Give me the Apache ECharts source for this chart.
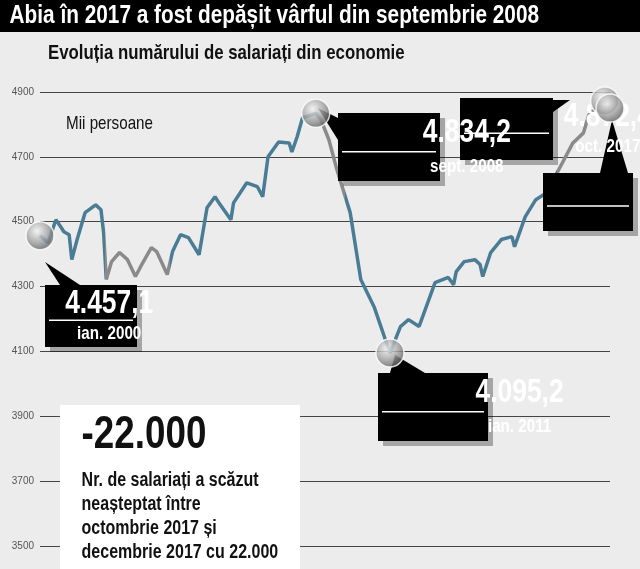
<!DOCTYPE html>
<html><head><meta charset="utf-8">
<script src="https://cdn.jsdelivr.net/npm/echarts@6/dist/echarts.min.js"></script>
<style>html,body{margin:0;padding:0;background:#ececec}#c{width:640px;height:569px}</style>
</head><body><div id="c"></div>
<script>
// months since Jan 2000
const months = [0,3,6,8,9,11,12,14,17,21,23,24,25,27,30,33,36,38,42,44,48,50,53,56,60,63,66,68,72,73,78,82,84,86,90,94,95,97,99,104,106,109,112,117,121,126,132,136,139,143,149,154,156,157,160,164,166,167,170,174,178,179,183,187,191,197,201,205,207,213,215];
const values = [4457.1,4435,4506,4482,4469,4460,4383,4445,4528,4552,4537,4466,4322,4377,4405,4383,4331,4362,4420,4408,4337,4408,4460,4451,4398,4543,4577,4552,4506,4558,4620,4608,4577,4700,4746,4743,4715,4762,4820,4834.2,4814,4752,4660,4528,4322,4238,4095.2,4177,4198,4177,4312,4328,4306,4346,4377,4383,4368,4331,4405,4445,4454,4423,4515,4568,4589,4681,4743,4774,4829,4872.4,4850.4];
const yTicks = [3500,3700,3900,4100,4300,4500,4700,4900];
const highlights = [[0,4457.1],[104,4834.2],[132,4095.2],[213,4872.4],[215,4850.4]];
const title = "Abia în 2017 a fost depășit vârful din septembrie 2008";
const subtitle = "Evoluția numărului de salariați din economie";
const callouts = [
  {v:"4.457,1", d:"ian. 2000", x:45, y:285, w:92, h:62},
  {v:"4.834,2", d:"sept. 2008", x:338, y:113, w:102, h:68},
  {v:"4.095,2", d:"ian. 2011", x:378, y:373, w:110, h:68},
  {v:"4.872,4", d:"oct. 2017", x:460, y:98, w:93, h:62},
  {v:"4.850,4", d:"dec. 2017", x:543, y:173, w:90, h:58}
];
const F = "'Liberation Sans',Arial,sans-serif";
const SX = 0.8;
function txt(x,y,text,font,opts){
  opts = opts||{};
  return {type:'text',x:x,y:y,scaleX:SX,originX:x,originY:y,z:11,
    style:Object.assign({text:text,fill:opts.fill||'#111',font:font,align:opts.align||'left',verticalAlign:opts.va||'top',lineHeight:opts.lh},{})};
}
const ch = echarts.init(document.getElementById('c'));
const g = [
  {type:'rect',shape:{x:0,y:0,width:640,height:32},style:{fill:'#000'},z:10},
  txt(8,3,title,'bold 26px '+F,{fill:'#fff'}),
  txt(40,43,subtitle,'bold 21px '+F),
  txt(55,114,'Mii persoane','19px '+F),
  {type:'rect',shape:{x:60,y:405,width:240,height:164},style:{fill:'#fff'},z:10},
  txt(68,412,'-22.000','bold 46px '+F),
  txt(68,468,'Nr. de salariați a scăzut\nneașteptat între\noctombrie 2017 și\ndecembrie 2017 cu 22.000','bold 20px '+F,{lh:24}),
  txt(553,460,'SURSA: INS','12px '+F),
  // pointers
  {type:'polygon',shape:{points:[[45,262],[60,285],[80,285]]},style:{fill:'#000'},z:9},
  {type:'polygon',shape:{points:[[318,108],[338,118],[338,140]]},style:{fill:'#000'},z:9},
  {type:'polygon',shape:{points:[[395,355],[390,373],[425,373]]},style:{fill:'#000'},z:9},
  {type:'polygon',shape:{points:[[570,100],[553,100],[553,112]]},style:{fill:'#000'},z:9},
  {type:'polygon',shape:{points:[[612,120],[600,173],[628,173]]},style:{fill:'#000'},z:9}
];
callouts.forEach(c=>{
  g.push({type:'rect',shape:{x:c.x+5,y:c.y+5,width:c.w,height:c.h},style:{fill:'rgba(0,0,0,0.3)'},z:9});
  g.push({type:'rect',shape:{x:c.x,y:c.y,width:c.w,height:c.h},style:{fill:'#000'},z:10});
  g.push({type:'line',shape:{x1:c.x+4,y1:c.y+c.h*0.57,x2:c.x+c.w-4,y2:c.y+c.h*0.57},style:{stroke:'#fff',lineWidth:1.5},z:11});
  g.push(txt(c.x+c.w/2,c.y+c.h*0.3,c.v,'bold 33px '+F,{fill:'#fff',align:'center',va:'middle'}));
  g.push(txt(c.x+c.w/2,c.y+c.h*0.79,c.d,'bold 19px '+F,{fill:'#fff',align:'center',va:'middle'}));
});
ch.setOption({
  backgroundColor:'#ececec',
  animation:false,
  grid:{left:40,right:30,top:92,bottom:23},
  xAxis:{type:'value',min:0,max:215,show:false},
  yAxis:{type:'value',min:3500,max:4900,interval:200,
    axisLine:{show:false},axisTick:{show:false},
    axisLabel:{color:'#555',fontSize:10,fontFamily:F,margin:6,formatter:v=>yTicks.includes(v)?String(v):''},
    splitLine:{lineStyle:{color:'#444',width:1}}},
  visualMap:{show:false,type:'piecewise',dimension:0,seriesIndex:0,
    pieces:[{lt:24.5,color:'#4a7c96'},{gte:24.5,lt:49,color:'#8a8a8a'},{gte:49,lt:105,color:'#4a7c96'},{gte:105,lt:115,color:'#8a8a8a'},{gte:115,lt:195,color:'#4a7c96'},{gte:195,color:'#8a8a8a'}]},
  series:[
    {type:'line',data:months.map((m,i)=>[m,values[i]]),showSymbol:false,lineStyle:{width:3.5},z:3},
    {type:'scatter',data:highlights,symbolSize:28,z:12,
      itemStyle:{color:new echarts.graphic.RadialGradient(0.4,0.35,0.7,[{offset:0,color:'#f4f4f4'},{offset:0.6,color:'#9a9a9a'},{offset:1,color:'#555'}]),borderColor:'#fff',borderWidth:1.5}}
  ],
  graphic:g
});
</script></body></html>
